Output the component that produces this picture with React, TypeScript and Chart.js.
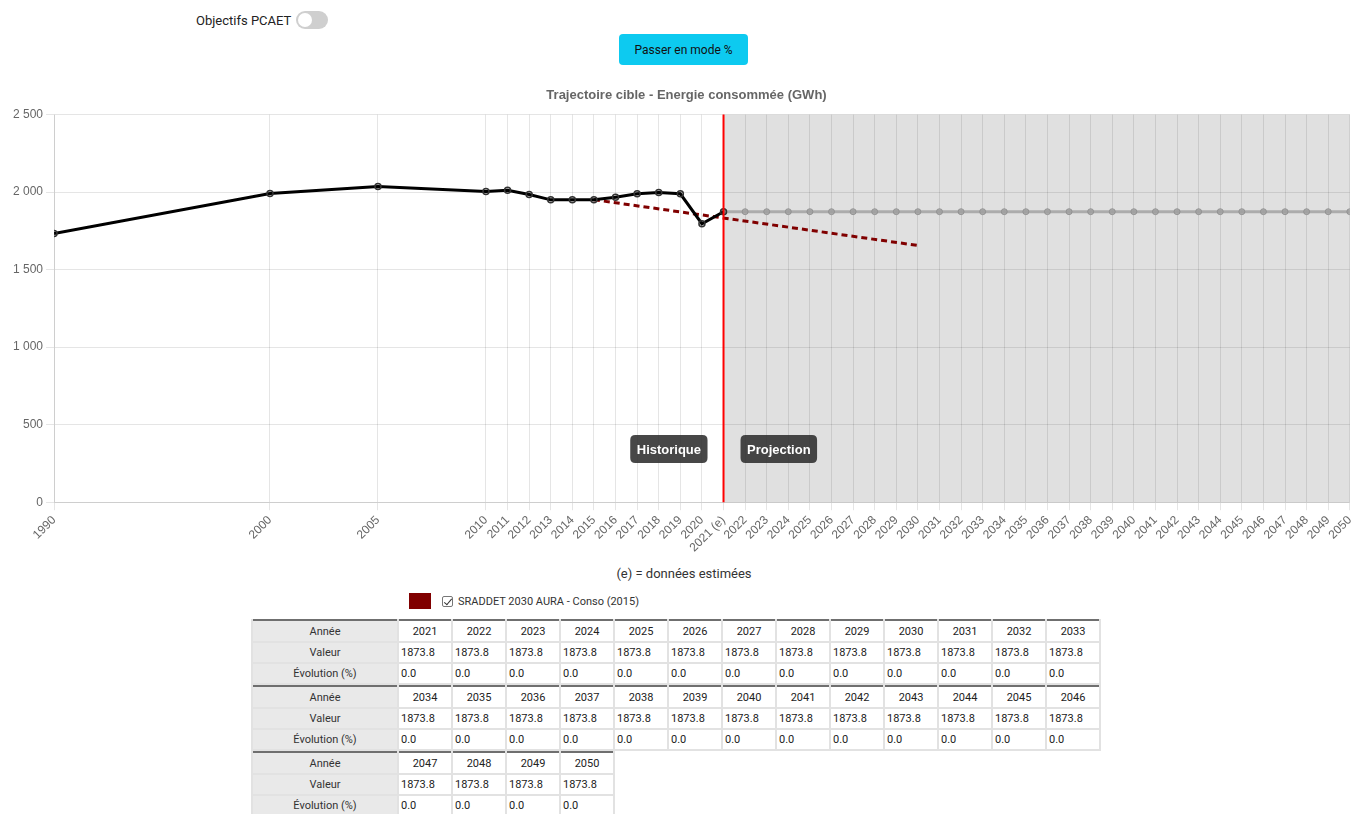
import React, { useEffect, useRef } from "react";
import { Chart, registerables } from "chart.js";

Chart.register(...registerables);

// ---------- DATA ----------
const HIST_YEARS = [1990, 2000, 2005, 2010, 2011, 2012, 2013, 2014, 2015, 2016, 2017, 2018, 2019, 2020, 2021];
const HIST_VALUES = [1733, 1991, 2036, 2004, 2012, 1985, 1950, 1950, 1951, 1967, 1989, 1997, 1989, 1796, 1873.8];

const PROJ_YEARS = [
  2021, 2022, 2023, 2024, 2025, 2026, 2027, 2028, 2029, 2030, 2031, 2032, 2033, 2034, 2035,
  2036, 2037, 2038, 2039, 2040, 2041, 2042, 2043, 2044, 2045, 2046, 2047, 2048, 2049, 2050,
];
const PROJ_VALUES = [
  1873.8, 1873.8, 1873.8, 1873.8, 1873.8, 1873.8, 1873.8, 1873.8, 1873.8, 1873.8,
  1873.8, 1873.8, 1873.8, 1873.8, 1873.8, 1873.8, 1873.8, 1873.8, 1873.8, 1873.8,
  1873.8, 1873.8, 1873.8, 1873.8, 1873.8, 1873.8, 1873.8, 1873.8, 1873.8, 1873.8,
];

const SRADDET_YEARS = [2015, 2030];
const SRADDET_VALUES = [1951, 1656];

const TICK_YEARS = [
  1990, 2000, 2005, 2010, 2011, 2012, 2013, 2014, 2015, 2016, 2017, 2018, 2019, 2020, 2021,
  2022, 2023, 2024, 2025, 2026, 2027, 2028, 2029, 2030, 2031, 2032, 2033, 2034, 2035, 2036,
  2037, 2038, 2039, 2040, 2041, 2042, 2043, 2044, 2045, 2046, 2047, 2048, 2049, 2050,
];
const ESTIMATED_YEAR = 2021;
const PROJECTION_START = 2021;

const TITLE = "Trajectoire cible - Energie consommée (GWh)";
const SRADDET_LABEL = "SRADDET 2030 AURA - Conso (2015)";
const TABLE_CHUNK = 13;

const FONT = "'Liberation Sans', Arial, Helvetica, sans-serif";
const UI_FONT = "Roboto, 'Noto Sans', sans-serif";

function fmtThousands(v: number): string {
  const s = String(Math.round(v));
  return s.replace(/\B(?=(\d{3})+(?!\d))/g, " ");
}

function roundRect(ctx: CanvasRenderingContext2D, x: number, y: number, w: number, h: number, r: number) {
  ctx.beginPath();
  ctx.moveTo(x + r, y);
  ctx.lineTo(x + w - r, y);
  ctx.quadraticCurveTo(x + w, y, x + w, y + r);
  ctx.lineTo(x + w, y + h - r);
  ctx.quadraticCurveTo(x + w, y + h, x + w - r, y + h);
  ctx.lineTo(x + r, y + h);
  ctx.quadraticCurveTo(x, y + h, x, y + h - r);
  ctx.lineTo(x, y + r);
  ctx.quadraticCurveTo(x, y, x + r, y);
  ctx.closePath();
}

const projectionPlugin = {
  id: "projectionZone",
  beforeDatasetsDraw(chart: any) {
    const { ctx, chartArea, scales } = chart;
    const x0 = scales.x.getPixelForValue(PROJECTION_START);
    ctx.save();
    ctx.fillStyle = "rgba(0,0,0,0.12)";
    ctx.fillRect(x0, chartArea.top, chartArea.right - x0, chartArea.bottom - chartArea.top);
    ctx.restore();
  },
  afterDatasetsDraw(chart: any) {
    const { ctx, chartArea, scales } = chart;
    const x0 = scales.x.getPixelForValue(PROJECTION_START);
    ctx.save();
    ctx.strokeStyle = "#ff0000";
    ctx.lineWidth = 2;
    ctx.beginPath();
    ctx.moveTo(x0, chartArea.top);
    ctx.lineTo(x0, chartArea.bottom);
    ctx.stroke();

    const cy = chartArea.bottom - (chartArea.bottom - chartArea.top) * 0.137;
    ctx.font = `bold 13px ${FONT}`;
    const labels = [
      { text: "Historique", side: -1 },
      { text: "Projection", side: 1 },
    ];
    for (const l of labels) {
      const tw = ctx.measureText(l.text).width;
      const w = tw + 13;
      const h = 28;
      const bx = l.side < 0 ? x0 - 16 - w : x0 + 17;
      ctx.fillStyle = "rgba(45,45,45,0.88)";
      roundRect(ctx, bx, cy - h / 2, w, h, 5);
      ctx.fill();
      ctx.fillStyle = "#ffffff";
      ctx.textAlign = "center";
      ctx.textBaseline = "middle";
      ctx.fillText(l.text, bx + w / 2, cy + 1);
    }
    ctx.restore();
  },
};

function ChartCanvas() {
  const ref = useRef<HTMLCanvasElement | null>(null);
  useEffect(() => {
    if (!ref.current) return;
    const chart = new Chart(ref.current, {
      type: "line",
      data: {
        datasets: [
          {
            label: "Historique",
            data: HIST_YEARS.map((y, i) => ({ x: y, y: HIST_VALUES[i] })),
            borderColor: "#000000",
            borderWidth: 3,
            pointRadius: 3,
            pointBorderWidth: 1.5,
            pointBorderColor: "#333333",
            pointBackgroundColor: "rgba(0,0,0,0.15)",
            tension: 0,
            fill: false,
            order: 1,
          },
          {
            label: "Projection",
            data: PROJ_YEARS.map((y, i) => ({ x: y, y: PROJ_VALUES[i] })),
            borderColor: "rgba(150,150,150,0.7)",
            borderWidth: 3,
            pointRadius: 3,
            pointBorderWidth: 1,
            pointBorderColor: "rgba(140,140,140,0.8)",
            pointBackgroundColor: "rgba(160,160,160,0.8)",
            tension: 0,
            fill: false,
            order: 2,
          },
          {
            label: SRADDET_LABEL,
            data: SRADDET_YEARS.map((y, i) => ({ x: y, y: SRADDET_VALUES[i] })),
            borderColor: "#800000",
            borderWidth: 3,
            borderDash: [6, 4],
            pointRadius: 0,
            tension: 0,
            fill: false,
            order: 3,
          },
        ],
      },
      options: {
        animation: false,
        responsive: false,
        maintainAspectRatio: false,
        layout: { padding: { left: 10, right: 0, top: 0, bottom: 0 } },
        plugins: {
          legend: { display: false },
          tooltip: { enabled: false },
          title: {
            display: true,
            text: TITLE,
            color: "#666",
            font: { family: FONT, size: 13, weight: "bold" },
            padding: { top: 10, bottom: 11 },
          },
        },
        scales: {
          x: {
            type: "linear",
            min: 1990,
            max: 2050,
            afterBuildTicks: (axis: any) => {
              axis.ticks = TICK_YEARS.map((v) => ({ value: v }));
            },
            ticks: {
              autoSkip: false,
              minRotation: 45,
              maxRotation: 45,
              color: "#666",
              font: { family: FONT, size: 12 },
              callback: (v: any) => (Number(v) === ESTIMATED_YEAR ? `${v} (e)` : String(v)),
            },
            grid: { color: "rgba(0,0,0,0.1)", tickLength: 8 },
            border: { color: "rgba(0,0,0,0.1)" },
          },
          y: {
            min: 0,
            max: 2500,
            ticks: {
              stepSize: 500,
              color: "#666",
              font: { family: FONT, size: 12 },
              callback: (v: any) => fmtThousands(Number(v)),
            },
            grid: { color: "rgba(0,0,0,0.1)", tickLength: 8 },
            border: { color: "rgba(0,0,0,0.1)" },
          },
        },
      },
      plugins: [projectionPlugin],
    } as any);
    return () => chart.destroy();
  }, []);
  return (
    <canvas
      ref={ref}
      width={1363}
      height={480}
      style={{ position: "absolute", left: 0, top: 78, width: 1363, height: 480 }}
    />
  );
}

function DataTable() {
  const chunks: number[][] = [];
  for (let i = 0; i < PROJ_YEARS.length; i += TABLE_CHUNK) {
    const idx: number[] = [];
    for (let j = i; j < Math.min(i + TABLE_CHUNK, PROJ_YEARS.length); j++) idx.push(j);
    chunks.push(idx);
  }
  const evol = PROJ_VALUES.map((v, i) => {
    const prev = i === 0 ? v : PROJ_VALUES[i - 1];
    return ((v - prev) / prev) * 100;
  });
  const cell: React.CSSProperties = {
    border: "2px solid #e2e2e2",
    height: 19,
    padding: "0 2px",
    fontSize: 11,
    color: "#222",
    background: "#fff",
    whiteSpace: "nowrap",
    overflow: "hidden",
  };
  const head: React.CSSProperties = {
    ...cell,
    background: "#e9e9e9",
    textAlign: "center",
    color: "#333",
    width: 142,
  };
  return (
    <div style={{ position: "absolute", left: 251, top: 619, fontFamily: UI_FONT }}>
      {chunks.map((idx, k) => (
        <table
          key={k}
          style={{
            borderCollapse: "collapse",
            tableLayout: "fixed",
            borderTop: "2px solid #6f6f6f",
            width: 146 + idx.length * 54,
          }}
        >
          <colgroup>
            <col style={{ width: 146 }} />
            {idx.map((i) => (
              <col key={i} style={{ width: 54 }} />
            ))}
          </colgroup>
          <tbody>
            <tr>
              <td style={{ ...head, borderTop: "none", height: 20 }}>Année</td>
              {idx.map((i) => (
                <td key={i} style={{ ...cell, borderTop: "none", height: 20, textAlign: "center" }}>
                  {PROJ_YEARS[i]}
                </td>
              ))}
            </tr>
            <tr>
              <td style={head}>Valeur</td>
              {idx.map((i) => (
                <td key={i} style={cell}>
                  {PROJ_VALUES[i].toFixed(1)}
                </td>
              ))}
            </tr>
            <tr>
              <td style={head}>Évolution (%)</td>
              {idx.map((i) => (
                <td key={i} style={cell}>
                  {evol[i].toFixed(1)}
                </td>
              ))}
            </tr>
          </tbody>
        </table>
      ))}
    </div>
  );
}

export default function App() {
  return (
    <div
      style={{
        position: "fixed",
        inset: 0,
        overflow: "hidden",
        background: "#fff",
        fontFamily: UI_FONT,
      }}
    >
      <div
        style={{
          position: "absolute",
          left: 196,
          top: 11,
          fontSize: 13,
          color: "#222",
          display: "flex",
          alignItems: "center",
          gap: 5,
        }}
      >
        <span>Objectifs PCAET</span>
        <span
          style={{
            display: "inline-block",
            width: 32,
            height: 18,
            borderRadius: 9,
            background: "#cfcfcf",
            position: "relative",
          }}
        >
          <span
            style={{
              position: "absolute",
              left: 2,
              top: 2,
              width: 14,
              height: 14,
              borderRadius: 7,
              background: "#fff",
            }}
          />
        </span>
      </div>
      <div
        style={{
          position: "absolute",
          left: 619,
          top: 34,
          width: 129,
          height: 31,
          background: "#0dcaf0",
          borderRadius: 4,
          display: "flex",
          alignItems: "center",
          justifyContent: "center",
          fontSize: 12,
          color: "#111",
        }}
      >
        Passer en mode %
      </div>
      <ChartCanvas />
      <div
        style={{
          position: "absolute",
          left: 0,
          width: 1368,
          top: 566,
          textAlign: "center",
          fontSize: 13,
          color: "#333",
        }}
      >
        (e) = données estimées
      </div>
      <div
        style={{
          position: "absolute",
          left: 409,
          top: 593,
          display: "flex",
          alignItems: "center",
          fontSize: 11,
          color: "#333",
        }}
      >
        <span style={{ display: "inline-block", width: 22, height: 16, background: "#800000" }} />
        <span
          style={{
            display: "inline-block",
            width: 11,
            height: 11,
            marginLeft: 11,
            border: "1px solid #777",
            borderRadius: 2,
            position: "relative",
            boxSizing: "border-box",
          }}
        >
          <span
            style={{
              position: "absolute",
              left: 3,
              top: 0,
              width: 3,
              height: 7,
              borderRight: "1.5px solid #333",
              borderBottom: "1.5px solid #333",
              transform: "rotate(40deg)",
            }}
          />
        </span>
        <span style={{ marginLeft: 5 }}>{SRADDET_LABEL}</span>
      </div>
      <DataTable />
    </div>
  );
}
